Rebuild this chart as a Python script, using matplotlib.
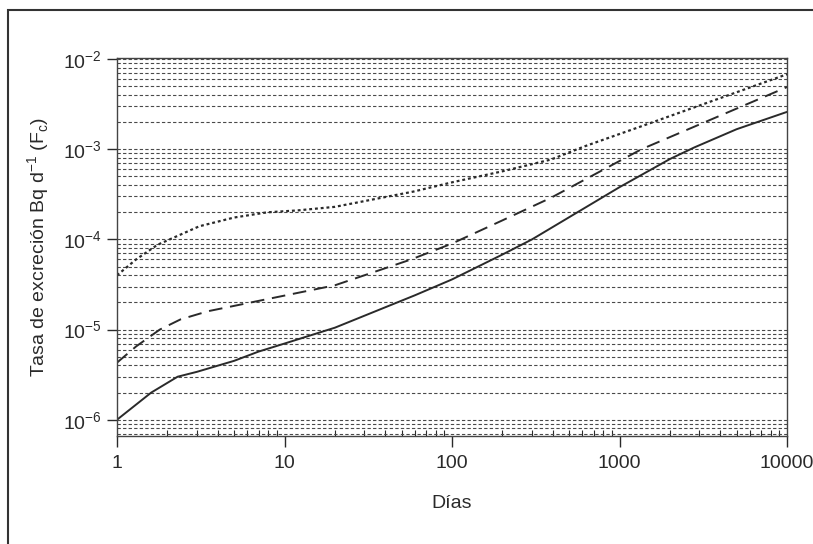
import matplotlib
matplotlib.use("Agg")
import matplotlib.pyplot as plt
from matplotlib.patches import Rectangle
from matplotlib.ticker import LogLocator, NullFormatter

plt.rcParams['font.family'] = ['Liberation Sans', 'DejaVu Sans']

# values (days, Bq/d)
solid_x = [1, 1.6, 2.3, 3, 5, 7, 10, 20, 35, 60, 100, 200, 300, 1000, 2000, 2800, 5000, 10000]
solid_y = [1.0e-6, 2.0e-6, 3.0e-6, 3.4e-6, 4.5e-6, 5.7e-6, 7.0e-6, 1.05e-5, 1.6e-5,
           2.4e-5, 3.6e-5, 6.8e-5, 1.0e-4, 3.8e-4, 7.8e-4, 1.05e-3, 1.67e-3, 2.6e-3]

dashed_x = [1, 1.3, 1.8, 2.4, 3.5, 6.3, 20, 57, 100, 196, 390, 1350, 10000]
dashed_y = [4.3e-6, 6.5e-6, 1.0e-5, 1.3e-5, 1.6e-5, 2.0e-5, 3.1e-5, 6.0e-5, 9.0e-5,
            1.6e-4, 2.9e-4, 1.0e-3, 4.9e-3]

dotted_x = [1, 1.3, 1.74, 3.1, 5, 7.9, 12, 20, 59, 100, 200, 390, 620, 1350, 10000]
dotted_y = [4.0e-5, 6.0e-5, 8.7e-5, 1.4e-4, 1.75e-4, 2.0e-4, 2.1e-4, 2.3e-4, 3.4e-4,
            4.3e-4, 5.7e-4, 7.7e-4, 1.08e-3, 1.8e-3, 6.8e-3]

x_ticks = [1, 10, 100, 1000, 10000]
x_labels = ["1", "10", "100", "1000", "10000"]

ink = "#2a2a2a"

fig = plt.figure(figsize=(8.13, 5.44), dpi=100)
ax = fig.add_axes([117 / 813, 1 - 436 / 544, 670 / 813, 378 / 544])

ax.plot(solid_x, solid_y, color=ink, lw=1.4, ls='-')
ax.plot(dashed_x, dashed_y, color=ink, lw=1.4, ls=(0, (7, 4)))
ax.plot(dotted_x, dotted_y, color=ink, lw=1.6, ls=(0, (1.3, 1.3)))

ax.set_xscale('log')
ax.set_yscale('log')
ax.set_xlim(1, 10000)
ax.set_ylim(6.6e-7, 1.03e-2)

ax.set_xticks(x_ticks)
ax.set_xticklabels(x_labels)
ax.set_yticks([1e-6, 1e-5, 1e-4, 1e-3, 1e-2])
ax.yaxis.set_minor_locator(LogLocator(base=10, subs=range(2, 10), numticks=20))
ax.yaxis.set_minor_formatter(NullFormatter())

ax.grid(True, which='both', axis='y', color='#4a4a4a', lw=0.8, ls=(0, (3, 2)))
ax.grid(False, axis='x')

ax.tick_params(axis='x', which='major', direction='out', length=8, width=1,
               color=ink, labelsize=14, labelcolor=ink, pad=6)
ax.tick_params(axis='x', which='minor', direction='in', length=4, width=0.8, color=ink)
ax.tick_params(axis='y', which='major', direction='out', length=7, width=1,
               color=ink, labelsize=14, labelcolor=ink, pad=4)
ax.tick_params(axis='y', which='minor', length=0)

for s in ax.spines.values():
    s.set_color('#444444')
    s.set_linewidth(1.0)

ax.set_xlabel("Días", fontsize=14, color=ink, labelpad=16)
ax.set_ylabel("Tasa de excreción Bq d$^{\\mathregular{-1}}$ (F$_{\\mathregular{c}}$)",
              fontsize=14, color=ink, labelpad=8)

# outer frame of the figure panel
fig.patches.append(Rectangle((8 / 813, -0.2), 1.3, 1.2 - 10 / 544,
                             transform=fig.transFigure, fill=False,
                             edgecolor='#333333', lw=1.5, clip_on=False))

fig.savefig("out.png", dpi=100)
